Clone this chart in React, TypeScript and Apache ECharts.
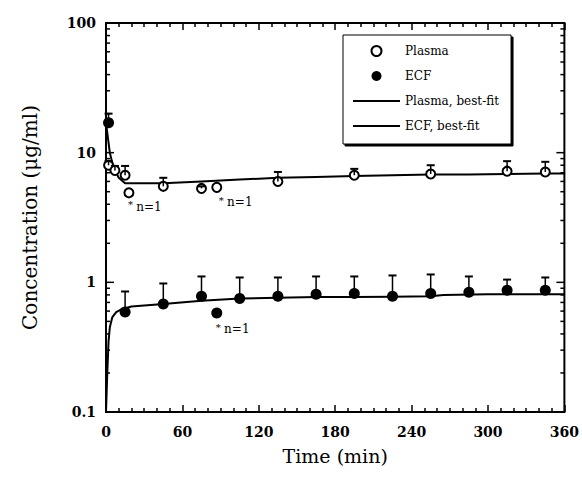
import React, { useEffect, useRef } from "react";
import * as echarts from "echarts";

// ---- axis ticks ----
const xTickLabels = [0, 60, 120, 180, 240, 300, 360];
const yMajorTicks = [0.1, 1, 10, 100];
const yMinorTicks = [
  0.2, 0.3, 0.4, 0.5, 0.6, 0.7, 0.8, 0.9,
  2, 3, 4, 5, 6, 7, 8, 9,
  20, 30, 40, 50, 60, 70, 80, 90,
];

// ---- Plasma (open circles) ----
const plasmaTimes = [2, 7, 15, 45, 75, 135, 195, 255, 315, 345];
const plasmaMeans = [8.0, 7.3, 6.7, 5.5, 5.3, 6.0, 6.7, 6.85, 7.2, 7.1];
const plasmaUpper = [8.6, 7.9, 7.9, 6.4, 5.5, 7.1, 7.5, 8.0, 8.6, 8.5];
// single-animal (n=1) plasma points
const plasmaSingleTimes = [18, 87];
const plasmaSingleMeans = [4.9, 5.4];

// ---- ECF (filled circles) ----
const ecfTimes = [2, 15, 45, 75, 105, 135, 165, 195, 225, 255, 285, 315, 345];
const ecfMeans = [17, 0.59, 0.68, 0.78, 0.75, 0.78, 0.81, 0.82, 0.78, 0.82, 0.84, 0.87, 0.87];
const ecfUpper = [20, 0.85, 0.98, 1.11, 1.09, 1.09, 1.11, 1.11, 1.13, 1.15, 1.11, 1.05, 1.09];
// single-animal (n=1) ECF point
const ecfSingleTimes = [87];
const ecfSingleMeans = [0.58];

// ---- best-fit curves ----
const plasmaFitTimes = [0, 3, 6, 10, 15, 45, 75, 105, 135, 165, 195, 225, 255, 285, 315, 345, 360];
const plasmaFitValues = [17, 10, 7.6, 6.4, 5.8, 5.8, 6.0, 6.2, 6.4, 6.5, 6.6, 6.7, 6.8, 6.8, 6.85, 6.9, 6.9];
const ecfFitTimes = [0, 1, 2, 3, 5, 8, 12, 20, 45, 75, 105, 135, 165, 195, 225, 255, 265, 300, 360];
const ecfFitValues = [0.1, 0.2, 0.35, 0.45, 0.54, 0.59, 0.62, 0.65, 0.68, 0.72, 0.75, 0.76, 0.77, 0.77, 0.775, 0.78, 0.8, 0.81, 0.81];

const SERIF = "DejaVu Serif";
const zip = (a: number[], b: number[]) => a.map((v, i) => [v, b[i]]);
const zip3 = (a: number[], b: number[], c: number[]) => a.map((v, i) => [v, b[i], c[i]]);

export default function App() {
  const ref = useRef<HTMLDivElement>(null);

  useEffect(() => {
    if (!ref.current) return;
    const chart = echarts.init(ref.current, undefined, { renderer: "svg" });

    const errorBarRender = (_params: any, api: any) => {
      const base = api.coord([api.value(0), api.value(1)]);
      const top = api.coord([api.value(0), api.value(2)]);
      return {
        type: "group",
        children: [
          { type: "line", shape: { x1: base[0], y1: base[1], x2: top[0], y2: top[1] }, style: { stroke: "#000", lineWidth: 1.5 } },
          { type: "line", shape: { x1: top[0] - 4, y1: top[1], x2: top[0] + 4, y2: top[1] }, style: { stroke: "#000", lineWidth: 2 } },
        ],
      };
    };

    const tickRender = (len: number) => (_params: any, api: any) => {
      const v = api.value(1);
      const l = api.coord([0, v]);
      const r = api.coord([360, v]);
      return {
        type: "group",
        children: [
          { type: "line", shape: { x1: l[0], y1: l[1], x2: l[0] + len, y2: l[1] }, style: { stroke: "#000", lineWidth: 1.5 } },
          { type: "line", shape: { x1: r[0] - len, y1: r[1], x2: r[0], y2: r[1] }, style: { stroke: "#000", lineWidth: 1.5 } },
        ],
      };
    };

    const singleLabel = (dx: number, dy: number) => ({
      show: true,
      position: "right",
      distance: 0,
      offset: [dx, dy],
      color: "#000",
      textBorderWidth: 0,
      formatter: "{s|*} {n|n=1}",
      rich: {
        s: { fontFamily: SERIF, fontSize: 10, color: "#000", padding: [0, 0, 4, 0] },
        n: { fontFamily: SERIF, fontSize: 12, color: "#000" },
      },
    });

    const plasmaSingleOffsets = [[-6.5, 14], [-3.5, 15]];
    const ecfSingleOffsets = [[-6.5, 16]];

    const lineIcon = "path://M0,0H47V2H0Z";

    const option: any = {
      animation: false,
      backgroundColor: "#fff",
      grid: {
        left: 106, right: 16, top: 23, bottom: 69,
        show: true, borderColor: "#000", borderWidth: 2, backgroundColor: "transparent",
      },
      legend: {
        orient: "vertical",
        left: 343,
        top: 35,
        data: [
          { name: "Plasma" },
          { name: "ECF" },
          { name: "Plasma, best-fit", icon: lineIcon },
          { name: "ECF, best-fit", icon: lineIcon },
        ],
        itemWidth: 47,
        itemHeight: 10,
        itemGap: 13,
        padding: [10, 12, 12, 10],
        backgroundColor: "#fff",
        borderColor: "#000",
        borderWidth: 1,
        shadowColor: "#000",
        shadowOffsetX: 2,
        shadowOffsetY: 2,
        shadowBlur: 0,
        selectedMode: false,
        textStyle: { fontFamily: SERIF, fontSize: 12, color: "#000" },
      },
      xAxis: [
        {
          type: "value",
          min: xTickLabels[0],
          max: xTickLabels[xTickLabels.length - 1],
          interval: 60,
          axisLine: { show: false },
          axisTick: { show: true, inside: true, length: 7, lineStyle: { color: "#000", width: 1.5 } },
          minorTick: { show: true, splitNumber: 6, length: 4, lineStyle: { color: "#000", width: 1.5 } },
          splitLine: { show: false },
          axisLabel: { fontFamily: SERIF, fontSize: 14, fontWeight: "bold", color: "#000", margin: 13 },
          name: "Time (min)",
          nameLocation: "middle",
          nameGap: 34,
          nameTextStyle: { fontFamily: SERIF, fontSize: 19, color: "#000" },
        },
        {
          type: "value",
          position: "top",
          min: xTickLabels[0],
          max: xTickLabels[xTickLabels.length - 1],
          interval: 60,
          axisLine: { show: false },
          axisTick: { show: true, inside: true, length: 7, lineStyle: { color: "#000", width: 1.5 } },
          minorTick: { show: true, splitNumber: 6, length: 4, lineStyle: { color: "#000", width: 1.5 } },
          splitLine: { show: false },
          axisLabel: { show: false },
        },
      ],
      yAxis: {
        type: "log",
        logBase: 10,
        min: yMajorTicks[0],
        max: yMajorTicks[yMajorTicks.length - 1],
        axisLine: { show: false },
        axisTick: { show: false },
        splitLine: { show: false },
        axisLabel: { fontFamily: SERIF, fontSize: 14, fontWeight: "bold", color: "#000", margin: 10 },
        name: "Concentration (μg/ml)",
        nameLocation: "middle",
        nameGap: 66,
        nameTextStyle: { fontFamily: SERIF, fontSize: 20, color: "#000" },
      },
      series: [
        {
          type: "custom",
          name: "yMinorTicks",
          renderItem: tickRender(4),
          data: yMinorTicks.map((v) => [0, v]),
          encode: { x: 0, y: 1 },
          silent: true,
          z: 1,
        },
        {
          type: "custom",
          name: "yMajorTicks",
          renderItem: tickRender(8),
          data: yMajorTicks.map((v) => [0, v]),
          encode: { x: 0, y: 1 },
          silent: true,
          z: 1,
        },
        {
          type: "line",
          name: "Plasma, best-fit",
          data: zip(plasmaFitTimes, plasmaFitValues),
          symbol: "none",
          lineStyle: { color: "#000", width: 2 },
          itemStyle: { color: "#000" },
          z: 2,
        },
        {
          type: "line",
          name: "ECF, best-fit",
          data: zip(ecfFitTimes, ecfFitValues),
          symbol: "none",
          lineStyle: { color: "#000", width: 2 },
          itemStyle: { color: "#000" },
          z: 2,
        },
        {
          type: "scatter",
          name: "Plasma",
          data: zip(plasmaTimes, plasmaMeans),
          symbol: "circle",
          symbolSize: 9,
          itemStyle: { color: "#fff", borderColor: "#000", borderWidth: 2, opacity: 1 },
          z: 3,
        },
        {
          type: "scatter",
          name: "Plasma n=1",
          data: plasmaSingleTimes.map((t, i) => ({
            value: [t, plasmaSingleMeans[i]],
            label: singleLabel(plasmaSingleOffsets[i][0], plasmaSingleOffsets[i][1]),
          })),
          symbol: "circle",
          symbolSize: 9,
          itemStyle: { color: "#fff", borderColor: "#000", borderWidth: 2, opacity: 1 },
          z: 3,
        },
        {
          type: "scatter",
          name: "ECF",
          data: zip(ecfTimes, ecfMeans),
          symbol: "circle",
          symbolSize: 11,
          itemStyle: { color: "#000", opacity: 1 },
          z: 3,
        },
        {
          type: "scatter",
          name: "ECF n=1",
          data: ecfSingleTimes.map((t, i) => ({
            value: [t, ecfSingleMeans[i]],
            label: singleLabel(ecfSingleOffsets[i][0], ecfSingleOffsets[i][1]),
          })),
          symbol: "circle",
          symbolSize: 11,
          itemStyle: { color: "#000", opacity: 1 },
          z: 3,
        },
        {
          type: "custom",
          name: "Plasma error",
          renderItem: errorBarRender,
          data: zip3(plasmaTimes, plasmaMeans, plasmaUpper),
          encode: { x: 0, y: [1, 2] },
          silent: true,
          z: 4,
        },
        {
          type: "custom",
          name: "ECF error",
          renderItem: errorBarRender,
          data: zip3(ecfTimes, ecfMeans, ecfUpper),
          encode: { x: 0, y: [1, 2] },
          silent: true,
          z: 4,
        },
      ],
    };

    chart.setOption(option);
    return () => chart.dispose();
  }, []);

  return (
    <div
      ref={ref}
      style={{ position: "absolute", left: 0, top: 0, width: 582, height: 481, background: "#fff" }}
    />
  );
}
